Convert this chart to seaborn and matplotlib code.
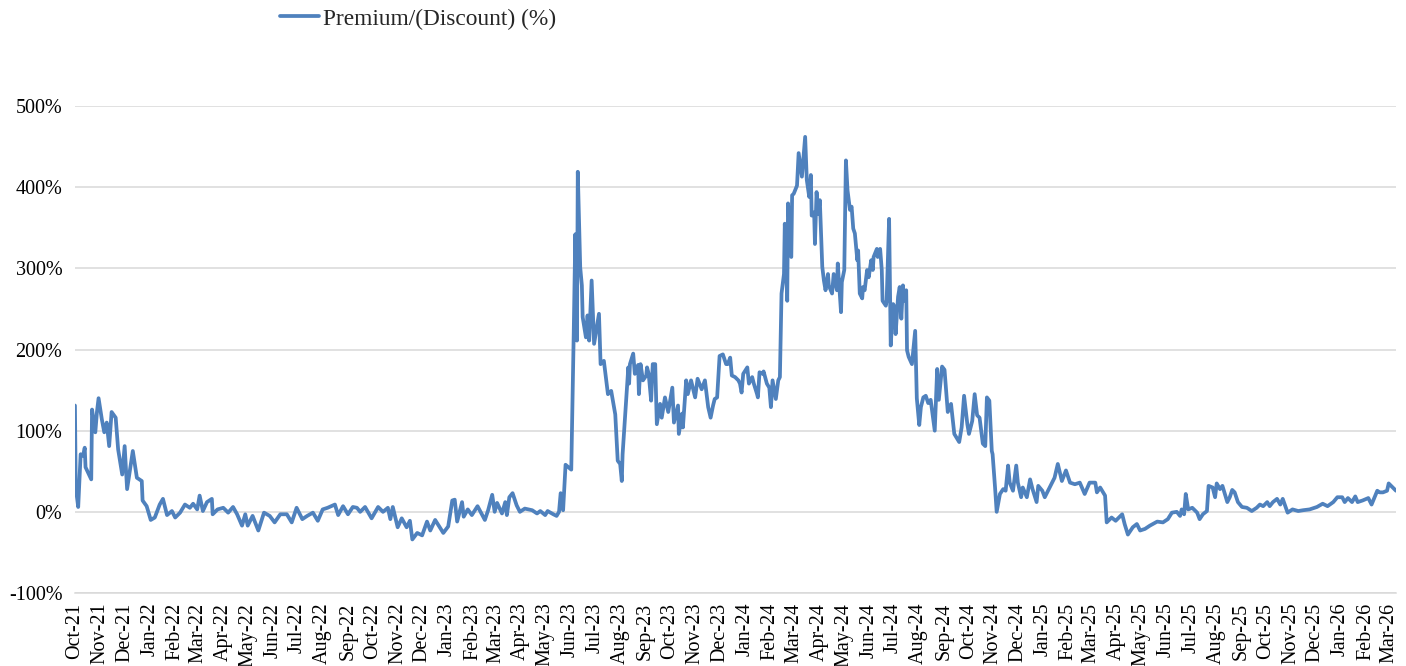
import pandas as pd
import numpy as np
import matplotlib
matplotlib.use("Agg")
import matplotlib.pyplot as plt
import matplotlib.dates as mdates
from matplotlib.ticker import FuncFormatter, MultipleLocator
import seaborn as sns

# ── 1. Data ────────────────────────────────────────────────────
start = "2021-10-01"
end = "2026-03-10"
series_name = "Premium/(Discount) (%)"

# days since start, premium/(discount) in %
day = [
    0, 1, 4, 7, 10, 12, 13, 20, 21, 25, 27, 29, 33, 36, 39, 42, 45, 50, 53, 58,
    61, 64, 71, 76, 82, 83, 88, 93, 98, 104, 108, 113, 119, 123, 129, 135, 141, 145, 150, 153,
    157, 162, 168, 169, 175, 182, 188, 194, 199, 205, 209, 212, 218, 225, 232, 239, 245, 252, 260, 266,
    272, 279, 285, 292, 298, 304, 310, 319, 323, 329, 335, 341, 346, 350, 356, 364, 372, 378, 384, 387,
    390, 396, 401, 407, 411, 414, 420, 426, 432, 436, 442, 452, 458, 463, 466, 469, 475, 477, 482, 487,
    494, 503, 507, 512, 515, 518, 524, 528, 530, 533, 537, 542, 546, 552, 561, 567, 571, 577, 580, 587,
    591, 594, 596, 599, 602, 609, 612, 614, 616, 617, 620, 622, 623, 627, 629, 631, 634, 637, 641, 643,
    645, 649, 652, 654, 658, 663, 666, 669, 671, 672, 679, 680, 681, 685, 687, 691, 692, 694, 697, 701,
    702, 704, 707, 709, 712, 714, 718, 720, 724, 728, 733, 735, 740, 741, 745, 746, 750, 752, 756, 761,
    764, 769, 773, 777, 780, 783, 785, 788, 791, 795, 799, 801, 804, 806, 810, 814, 816, 818, 820, 825,
    827, 831, 833, 837, 838, 840, 844, 845, 849, 852, 854, 856, 860, 863, 865, 867, 870, 871, 874, 875,
    879, 880, 882, 886, 888, 892, 896, 898, 901, 903, 904, 907, 908, 910, 912, 914, 917, 919, 921, 924,
    925, 929, 931, 935, 936, 940, 941, 944, 946, 948, 951, 953, 955, 957, 960, 961, 963, 966, 967, 969,
    972, 974, 977, 979, 980, 984, 985, 988, 990, 991, 995, 996, 999, 1001, 1004, 1006, 1007, 1010, 1012, 1014,
    1016, 1017, 1020, 1021, 1023, 1027, 1031, 1033, 1036, 1038, 1041, 1044, 1047, 1050, 1055, 1058, 1060, 1064, 1067, 1071,
    1075, 1079, 1085, 1088, 1091, 1095, 1097, 1101, 1104, 1107, 1110, 1114, 1117, 1119, 1122, 1125, 1126, 1129, 1131, 1135,
    1139, 1142, 1145, 1147, 1151, 1155, 1157, 1161, 1163, 1168, 1172, 1175, 1180, 1182, 1187, 1190, 1194, 1199, 1202, 1206,
    1211, 1216, 1221, 1227, 1233, 1239, 1245, 1252, 1254, 1258, 1264, 1266, 1272, 1277, 1285, 1288, 1292, 1298, 1303, 1307,
    1313, 1319, 1328, 1335, 1341, 1346, 1352, 1356, 1358, 1361, 1363, 1366, 1371, 1377, 1380, 1384, 1389, 1391, 1396, 1399,
    1401, 1405, 1408, 1414, 1417, 1420, 1423, 1427, 1432, 1438, 1444, 1450, 1454, 1458, 1463, 1466, 1470, 1475, 1479, 1482,
    1488, 1494, 1501, 1507, 1515, 1524, 1531, 1537, 1544, 1549, 1555, 1558, 1562, 1567, 1571, 1574, 1580, 1587, 1591, 1598,
    1601, 1605, 1610, 1612, 1617, 1621,
]
premium = [
    131, 30, 6, 71, 69, 79, 55, 40, 126, 98, 123, 140, 114, 98, 110, 81, 123, 116, 77, 46,
    81, 28, 75, 42, 38, 14, 7, -10, -7, 9, 16, -4, 1, -7, -1, 9, 5, 10, 3, 20,
    1, 12, 16, -3, 3, 5, -1, 6, -3, -17, -3, -17, -5, -23, -1, -5, -13, -3, -3, -13,
    5, -9, -5, -1, -11, 3, 5, 9, -4, 7, -3, 6, 5, 0, 6, -8, 6, 0, 5, -9,
    6, -19, -8, -19, -11, -34, -26, -29, -12, -23, -10, -26, -18, 14, 15, -12, 12, -6, 3, -4,
    7, -10, 2, 21, 0, 11, -2, 12, -4, 18, 23, 8, 0, 4, 2, -2, 1, -4, 1, -3,
    -5, 0, 23, 2, 58, 52, 219, 342, 211, 419, 301, 279, 240, 215, 242, 211, 285, 207, 232, 244,
    182, 186, 162, 145, 149, 120, 63, 59, 38, 71, 178, 158, 182, 195, 170, 181, 145, 182, 162, 168,
    178, 170, 137, 182, 182, 108, 133, 116, 141, 123, 153, 110, 131, 96, 121, 104, 162, 145, 162, 141,
    164, 151, 162, 129, 116, 131, 139, 141, 192, 194, 182, 182, 190, 168, 166, 162, 158, 147, 170, 178,
    158, 166, 158, 145, 141, 172, 170, 173, 158, 153, 129, 162, 139, 162, 166, 269, 293, 355, 260, 380,
    314, 390, 392, 402, 442, 413, 462, 409, 388, 415, 365, 369, 330, 394, 367, 384, 302, 285, 273, 293,
    279, 269, 293, 273, 306, 246, 283, 298, 433, 396, 372, 376, 349, 343, 310, 322, 269, 263, 277, 273,
    298, 289, 310, 298, 314, 324, 314, 324, 298, 260, 254, 260, 361, 205, 256, 252, 219, 265, 277, 238,
    279, 260, 273, 199, 191, 182, 223, 140, 107, 129, 141, 143, 134, 138, 100, 176, 138, 179, 175, 123,
    133, 96, 86, 104, 143, 108, 96, 112, 145, 119, 116, 84, 81, 141, 137, 75, 71, 30, 0, 22,
    28, 26, 57, 36, 26, 57, 36, 18, 30, 18, 40, 28, 12, 32, 26, 18, 26, 36, 42, 59,
    38, 51, 36, 34, 36, 22, 36, 36, 24, 30, 20, -13, -7, -11, -3, -15, -28, -19, -15, -23,
    -21, -17, -12, -13, -9, -1, 0, -5, 3, -3, 22, 3, 5, -1, -9, -3, 1, 32, 30, 18,
    35, 28, 32, 12, 18, 27, 24, 12, 6, 5, 1, 5, 9, 7, 12, 7, 12, 16, 9, 16,
    -1, 3, 1, 2, 3, 6, 10, 7, 12, 18, 18, 12, 17, 12, 19, 12, 14, 17, 9, 26,
    24, 24, 26, 35, 30, 26,
]

y_ticks = [-100, 0, 100, 200, 300, 400, 500]

df = pd.DataFrame({
    "date": pd.Timestamp(start) + pd.to_timedelta(day, unit="D"),
    "premium": premium,
})

# ── 2. Style ──────────────────────────────────────────────────
sns.set_style("white")
plt.rcParams["font.family"] = ["Liberation Serif", "DejaVu Serif"]
line_color = "#4F81BD"
grid_color = "#D9D9D9"

fig = plt.figure(figsize=(14.06, 6.66), dpi=100)
ax = fig.add_axes([0.0533, 0.1096, 0.9396, 0.7312])

# ── 3. Plot ───────────────────────────────────────────────────
sns.lineplot(data=df, x="date", y="premium", ax=ax, color=line_color,
             linewidth=2.7, estimator=None, label=series_name, legend=False)
for ln in ax.get_lines():
    ln.set_solid_joinstyle("round")
    ln.set_solid_capstyle("round")

ax.set_xlim(pd.Timestamp(start), pd.Timestamp(end))
ax.set_ylim(y_ticks[0], y_ticks[-1])
ax.yaxis.set_major_locator(MultipleLocator(100))
ax.yaxis.set_major_formatter(FuncFormatter(lambda v, p: f"{v:.0f}%"))
ax.xaxis.set_major_locator(mdates.MonthLocator())
ax.xaxis.set_major_formatter(mdates.DateFormatter("%b-%y"))

ax.yaxis.grid(True, color=grid_color, linewidth=1.1)
ax.xaxis.grid(False)
for s in ["top", "right", "left"]:
    ax.spines[s].set_visible(False)
ax.spines["bottom"].set_color(grid_color)
ax.spines["bottom"].set_linewidth(1.1)

ax.tick_params(axis="y", length=0, pad=9, labelsize=14.5, labelcolor="black")
ax.tick_params(axis="x", length=4, width=1, color=grid_color, pad=3,
               labelsize=14.5, labelrotation=90, labelcolor="black")
for lbl in ax.get_xticklabels():
    lbl.set_verticalalignment("top")
ax.set_xlabel("")
ax.set_ylabel("")

handles, labels = ax.get_legend_handles_labels()
fig.legend(handles, labels, loc="center left", bbox_to_anchor=(280 / 1406, 1 - 19 / 666),
           frameon=False, fontsize=16.8, handlelength=1.65, handletextpad=0.2,
           borderpad=0, borderaxespad=0)

plt.savefig("out.png", dpi=100)
print("saved out.png")
